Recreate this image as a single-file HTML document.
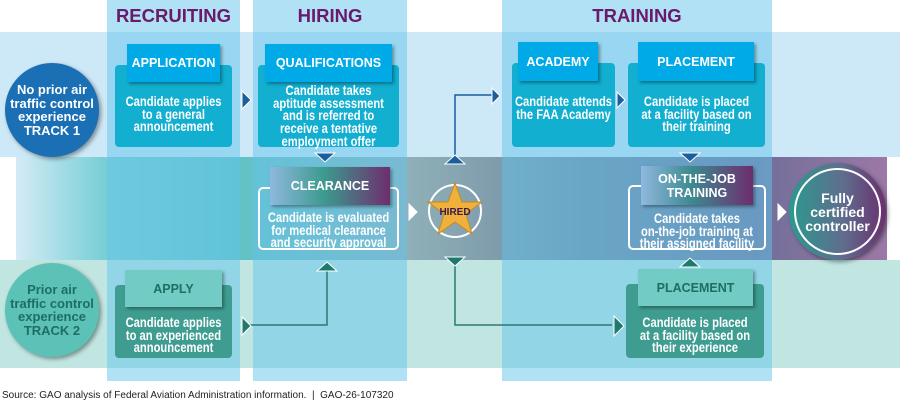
<!DOCTYPE html>
<html><head><meta charset="utf-8"><style>
*{margin:0;padding:0;box-sizing:border-box}
body{width:900px;height:404px;background:#fff;position:relative;overflow:hidden;font-family:"Liberation Sans",sans-serif}
.a{position:absolute}
.t{font-weight:bold;color:#fff;text-align:center;font-size:14px;line-height:12.7px;white-space:nowrap;transform:scaleX(.8);transform-origin:center top}
.h{font-weight:bold;color:#fff;text-align:center;font-size:12.5px;display:flex;align-items:center;justify-content:center;box-shadow:2px 2px 3px rgba(0,0,0,.35)}
.col{background:rgba(100,195,235,.5)}
.ct{font-weight:900;color:#6a1a6a;font-size:18.5px;text-align:center;top:5px}
</style></head><body>
<div class="a" style="left:0;top:32px;width:900px;height:125px;background:#cde8f7"></div>
<div class="a" style="left:16px;top:157px;width:871px;height:103px;background:linear-gradient(90deg,#d4ebf6 0%,#79cfd6 10%,#5fc3c6 25%,#8fb0b8 45%,#6f89a0 65%,#6f6f98 85%,#9c78a6 100%)"></div>
<div class="a" style="left:0;top:260px;width:900px;height:108px;background:#c1e6e2"></div>
<div class="a col" style="left:107px;top:0;width:133px;height:381px"></div>
<div class="a col" style="left:253px;top:0;width:154px;height:381px"></div>
<div class="a col" style="left:502px;top:0;width:270px;height:381px"></div>
<div class="a ct" style="left:107px;width:133px">RECRUITING</div>
<div class="a ct" style="left:253px;width:154px">HIRING</div>
<div class="a ct" style="left:502px;width:270px">TRAINING</div>

<div class="a" style="left:5px;top:63px;width:94px;height:94px;border-radius:50%;background:#1a6fb5;box-shadow:2px 2px 4px rgba(0,0,0,.4);display:flex;align-items:center;justify-content:center;color:#fff;font-weight:900;font-size:13px;line-height:13.5px;text-align:center">No prior air<br>traffic control<br>experience<br>TRACK 1</div>
<div class="a" style="left:5px;top:263px;width:94px;height:94px;border-radius:50%;background:#5cc1b6;box-shadow:2px 2px 4px rgba(0,0,0,.4);display:flex;align-items:center;justify-content:center;color:#1e6e64;font-weight:900;font-size:13px;line-height:13.5px;text-align:center">Prior air<br>traffic control<br>experience<br>TRACK 2</div>

<!-- Track 1 boxes -->
<div class="a" style="left:115px;top:65px;width:117px;height:82px;background:#12afd0;border-radius:4px"></div>
<div class="a h" style="left:127px;top:44px;width:93px;height:38px;background:#00aae6">APPLICATION</div>
<div class="a t" style="left:95px;top:95px;width:157px">Candidate applies<br>to a general<br>announcement</div>

<div class="a" style="left:258px;top:65px;width:141px;height:82px;background:#12afd0;border-radius:4px"></div>
<div class="a h" style="left:265px;top:44px;width:127px;height:38px;background:#00aae6">QUALIFICATIONS</div>
<div class="a t" style="left:238px;top:84px;width:181px">Candidate takes<br>aptitude assessment<br>and is referred to<br>receive a tentative<br>employment offer</div>

<div class="a" style="left:512px;top:63px;width:103px;height:84px;background:#12afd0;border-radius:4px"></div>
<div class="a h" style="left:518px;top:42px;width:80px;height:39px;background:#00aae6">ACADEMY</div>
<div class="a t" style="left:492px;top:95px;width:143px">Candidate attends<br>the FAA Academy</div>

<div class="a" style="left:628px;top:63px;width:137px;height:84px;background:#12afd0;border-radius:4px"></div>
<div class="a h" style="left:638px;top:42px;width:116px;height:39px;background:#00aae6">PLACEMENT</div>
<div class="a t" style="left:608px;top:95px;width:177px">Candidate is placed<br>at a facility based on<br>their training</div>

<!-- Middle -->
<div class="a" style="left:258px;top:187px;width:141px;height:63px;border:2px solid #fff;border-radius:5px"></div>
<div class="a h" style="left:270px;top:167px;width:120px;height:38px;background:linear-gradient(90deg,#8fb8de,#3c9a8e 45%,#6e2d6e)">CLEARANCE</div>
<div class="a t" style="left:238px;top:211px;width:181px">Candidate is evaluated<br>for medical clearance<br>and security approval</div>

<div class="a" style="left:628px;top:185px;width:138px;height:65px;border:2px solid #fff;border-radius:5px"></div>
<div class="a h" style="left:641px;top:166px;width:112px;height:39px;background:linear-gradient(90deg,#8fb8de,#3c8a90 45%,#6e2d6e);line-height:14px">ON-THE-JOB<br>TRAINING</div>
<div class="a t" style="left:608px;top:212px;width:178px">Candidate takes<br>on-the-job training at<br>their assigned facility</div>

<div class="a" style="left:789px;top:163px;width:97px;height:97px;border-radius:50%;background:linear-gradient(90deg,#2a9a8e,#5f6e8e 55%,#6a2f6e);box-shadow:2px 2px 4px rgba(0,0,0,.4)"></div>
<div class="a" style="left:794px;top:168px;width:87px;height:87px;border-radius:50%;border:2px solid #fff;display:flex;align-items:center;justify-content:center;color:#fff;font-weight:900;font-size:14px;line-height:14px;text-align:center">Fully<br>certified<br>controller</div>

<!-- Track 2 -->
<div class="a" style="left:115px;top:285px;width:117px;height:73px;background:#3f9c90;border-radius:4px"></div>
<div class="a h" style="left:125px;top:270px;width:97px;height:37px;background:#72cbc4;color:#1e6e64">APPLY</div>
<div class="a t" style="left:95px;top:316px;width:157px">Candidate applies<br>to an experienced<br>announcement</div>

<div class="a" style="left:626px;top:284px;width:138px;height:74px;background:#3f9c90;border-radius:4px"></div>
<div class="a h" style="left:638px;top:269px;width:115px;height:37px;background:#72cbc4;color:#1e6e64">PLACEMENT</div>
<div class="a t" style="left:606px;top:316px;width:178px">Candidate is placed<br>at a facility based on<br>their experience</div>

<svg class="a" style="left:0;top:0" width="900" height="404">
<g fill="none" stroke-width="1.5">
<path d="M455 155 V95 H492" stroke="#1a5e9c"/>
<path d="M455 265 V325 H612" stroke="#2a7a70"/>
<path d="M248 325 H327 V270" stroke="#2a7a70"/>
</g>
<circle cx="455" cy="211" r="26" fill="none" stroke="#fff" stroke-width="2"/>
<polygon points="455,183 462,202 482,202 466,214 472,234 455,222 438,234 444,214 428,202 448,202" fill="#f0b03c" stroke="#c88a1e" stroke-width="1"/>
<text x="455" y="215" font-family="Liberation Sans" font-weight="bold" font-size="10" fill="#3a1a4a" text-anchor="middle">HIRED</text>
<g stroke="#fff" stroke-width="1">
<polygon points="242,91 251,100 242,109" fill="#1a5e9c"/>
<polygon points="492,88 500,96 492,104" fill="#1a5e9c"/>
<polygon points="617,92 625,100 617,108" fill="#1a5e9c"/>
<polygon points="315,153 335,153 325,162" fill="#1a5e9c"/>
<polygon points="680,153 700,153 690,162" fill="#1a5e9c"/>
<polygon points="445,164 465,164 455,155" fill="#1a5e9c"/>
<polygon points="445,257 465,257 455,266" fill="#1e7a6e"/>
<polygon points="680,267 700,267 690,258" fill="#1e7a6e"/>
<polygon points="317,271 337,271 327,262" fill="#1e7a6e"/>
<polygon points="242,317 251,326 242,335" fill="#1e7a6e"/>
<polygon points="614,316 624,326 614,336" fill="#1e7a6e"/>
<polygon points="409,204 417,212 409,220" fill="#fff"/>
<polygon points="778,204 786,212 778,220" fill="#fff"/>
</g>
</svg>
<div class="a" style="left:2px;top:390px;font-size:10px;color:#222">Source: GAO analysis of Federal Aviation Administration information.&nbsp; |&nbsp; GAO-26-107320</div>
</body></html>
